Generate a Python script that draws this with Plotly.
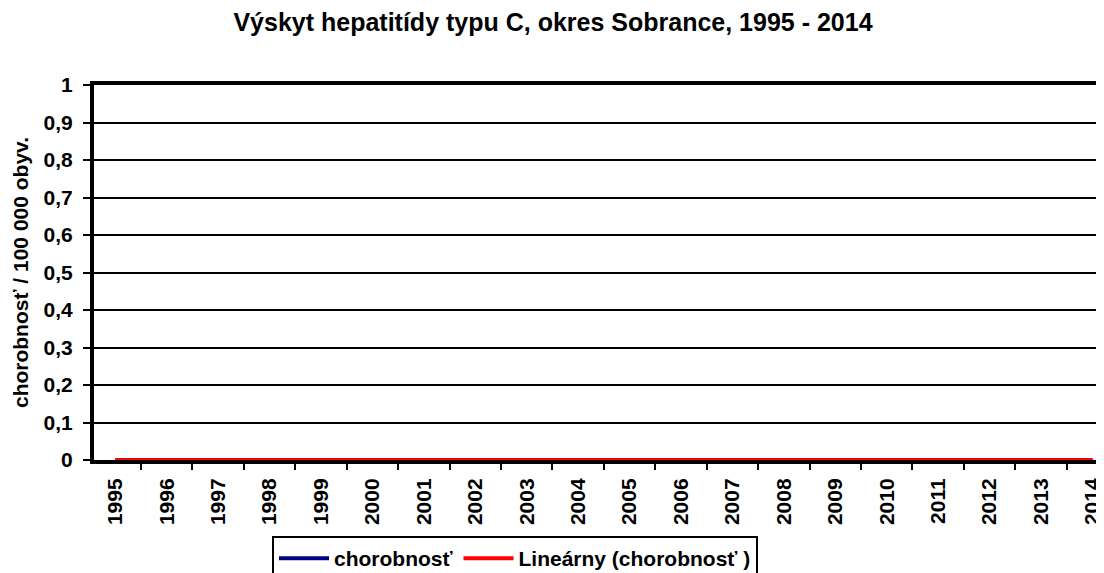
import plotly.graph_objects as go

years = [str(y) for y in range(1995, 2015)]
chorobnost = [0] * 20
trend = [0] * 20
y_ticks = [0, 0.1, 0.2, 0.3, 0.4, 0.5, 0.6, 0.7, 0.8, 0.9, 1]

FONT = "Liberation Sans, Arial, sans-serif"
W, H = 1104, 573
OFF = 8           # default page body margin
L, T, B = 94 - OFF, 85 - OFF, 573 - (460 - OFF)
CAT_PX = 51.43
X0_PX = 89.6 - OFF  # pixel position of category boundary -0.5 (figure coords)

fig = go.Figure()
fig.add_trace(go.Scatter(x=years, y=chorobnost, mode="lines", name="chorobnosť",
                         line=dict(color="#000080", width=4)))
fig.add_trace(go.Scatter(x=years, y=trend, mode="lines", name="Lineárny (chorobnosť )",
                         line=dict(color="#ff0000", width=4)))

x_start = -0.5 + (L - X0_PX) / CAT_PX
x_end = -0.5 + (W - X0_PX) / CAT_PX

fig.update_layout(
    width=W, height=H,
    margin=dict(l=L, r=0, t=T, b=B, autoexpand=False),
    paper_bgcolor="white", plot_bgcolor="white",
    separators=", ",
    font=dict(family=FONT, size=21, color="black"),
    title=dict(text="<b>Výskyt hepatitídy typu C, okres Sobrance, 1995 - 2014</b>",
               x=(553 - OFF) / W, xref="container", xanchor="center",
               y=1 - (22 - OFF) / H, yref="container", yanchor="middle",
               font=dict(size=25, family=FONT)),
    showlegend=True,
    legend=dict(orientation="h", xref="container", x=(272 - OFF) / W, xanchor="left",
                yref="container", y=1 - (536 - OFF) / H, yanchor="top",
                bordercolor="black", borderwidth=2, itemwidth=50,
                font=dict(size=21, family=FONT, weight="bold"),
                tracegroupgap=0),
)
fig.update_xaxes(
    type="category", range=[x_start, x_end], tickson="boundaries",
    ticks="outside", ticklen=6, tickwidth=2, tickcolor="black",
    tickangle=-90, tickfont=dict(size=21, family=FONT, weight="bold"),
    ticklabelstandoff=6,
    showline=True, linewidth=4, linecolor="black", mirror=True,
    showgrid=False, zeroline=False, fixedrange=True, automargin=False,
)
fig.update_yaxes(
    range=[0, 1], tickvals=y_ticks,
    ticks="outside", ticklen=7, tickwidth=2, tickcolor="black",
    tickfont=dict(size=21, family=FONT, weight="bold"),
    ticklabelstandoff=6,
    showline=True, linewidth=4, linecolor="black",
    showgrid=True, gridcolor="black", gridwidth=2, zeroline=False,
    title=dict(text="<b>chorobnosť / 100 000 obyv.</b>", font=dict(size=21, family=FONT), standoff=10),
    fixedrange=True, automargin=False,
)

fig.write_html("out.html")
